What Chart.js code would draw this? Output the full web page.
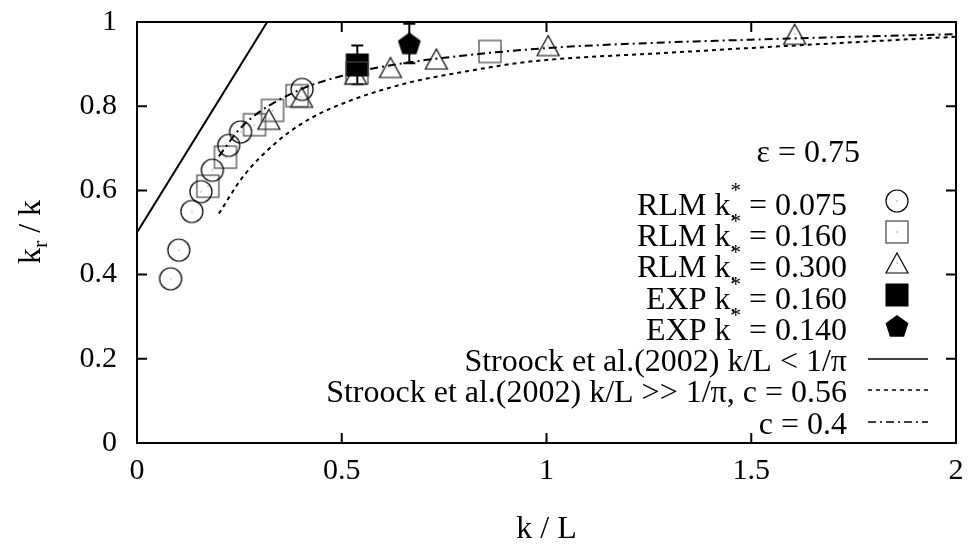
<!DOCTYPE html>
<html>
<head>
<meta charset="utf-8">
<script src="https://cdn.jsdelivr.net/npm/chart.js@4/dist/chart.umd.min.js"></script>
<style>
  body { margin: 0; background: #fff; }
  canvas { display: block; }
</style>
</head>
<body>
<canvas id="chart" width="969" height="545"></canvas>
<script>
// values
var circleX = [0.082, 0.102, 0.134, 0.156, 0.184, 0.224, 0.253, 0.403];
var circleY = [0.390, 0.458, 0.550, 0.597, 0.648, 0.707, 0.739, 0.840];

var squareX = [0.173, 0.216, 0.287, 0.331, 0.391, 0.537, 0.862];
var squareY = [0.610, 0.679, 0.756, 0.790, 0.825, 0.879, 0.930];

var triX = [0.322, 0.402, 0.534, 0.619, 0.731, 1.004, 1.606];
var triY = [0.769, 0.821, 0.876, 0.892, 0.912, 0.944, 0.971];

var exp160X = [0.538];
var exp160Y = [0.898];
var exp160Err = [0.046];

var exp140X = [0.665];
var exp140Y = [0.949];
var exp140Err = [0.047];

// Stroock et al. lines
var smallX = [0, 0.318];
var smallY = [0.5, 1.0];

var c056X = [0.20, 0.26, 0.34, 0.42, 0.52, 0.66, 0.80, 0.96, 1.30, 1.64, 2.00];
var c056Y = [0.545, 0.634, 0.714, 0.769, 0.813, 0.855, 0.882, 0.906, 0.927, 0.946, 0.965];

var c04X = [0.20, 0.25, 0.30, 0.40, 0.50, 0.60, 0.75, 1.00, 1.25, 1.50, 1.75, 2.00];
var c04Y = [0.681, 0.745, 0.787, 0.840, 0.872, 0.894, 0.915, 0.938, 0.950, 0.958, 0.965, 0.971];

var xTicks = [0, 0.5, 1, 1.5, 2];
var yTicks = [0, 0.2, 0.4, 0.6, 0.8, 1];

var seriesNames = [
  ["RLM k", "*", " = 0.075"],
  ["RLM k", "*", " = 0.160"],
  ["RLM k", "*", " = 0.300"],
  ["EXP k", "*", " = 0.160"],
  ["EXP k", "*", " = 0.140"],
  ["Stroock et al.(2002) k/L < 1/\u03c0", "", ""],
  ["Stroock et al.(2002) k/L >> 1/\u03c0, c = 0.56", "", ""],
  ["c = 0.4", "", ""]
];
var epsLabel = "\u03b5 = 0.75";

var serif = '"Liberation Serif", "Times New Roman", serif';

function pts(xs, ys) {
  return xs.map(function(x, i) { return {x: x, y: ys[i]}; });
}

// marker pictures, gnuplot style
function makeMarker(kind) {
  var c = document.createElement("canvas");
  c.width = 30; c.height = 30;
  var g = c.getContext("2d");
  g.lineWidth = 1.2;
  g.strokeStyle = "#000";
  g.fillStyle = "#000";
  var m = 15;
  if (kind == "circle") {
    g.beginPath(); g.arc(m, m, 11, 0, Math.PI * 2); g.stroke();
  } else if (kind == "square") {
    g.strokeStyle = "#444";
    g.strokeRect(m - 11, m - 11, 22, 22);
  } else if (kind == "triangle") {
    g.beginPath();
    g.moveTo(m, m - 10); g.lineTo(m + 11, m + 10); g.lineTo(m - 11, m + 10);
    g.closePath(); g.stroke();
  } else if (kind == "fsquare") {
    g.fillRect(m - 11.5, m - 11.5, 23, 23);
    return c;
  } else if (kind == "pentagon") {
    g.beginPath();
    for (var i = 0; i < 5; i++) {
      var a = -Math.PI / 2 + i * 2 * Math.PI / 5;
      var px = m + 12 * Math.cos(a), py = m + 1 + 12 * Math.sin(a);
      if (i == 0) g.moveTo(px, py); else g.lineTo(px, py);
    }
    g.closePath(); g.fill();
    return c;
  }
  g.fillStyle = "#555";
  g.fillRect(m - 0.5, m - 0.5, 1, 1);
  return c;
}

var markers = {
  circle: makeMarker("circle"),
  square: makeMarker("square"),
  triangle: makeMarker("triangle"),
  fsquare: makeMarker("fsquare"),
  pentagon: makeMarker("pentagon")
};

function markerSet(data, img) {
  return {
    data: data, showLine: false, pointStyle: img,
    pointRadius: 12, pointHoverRadius: 12, borderColor: "#000", backgroundColor: "#000"
  };
}
function lineSet(data, dash) {
  return {
    data: data, showLine: true, pointRadius: 0, borderColor: "#000",
    borderWidth: 2, borderDash: dash, cubicInterpolationMode: "monotone", fill: false
  };
}

var errorSets = [
  {xs: exp160X, ys: exp160Y, err: exp160Err},
  {xs: exp140X, ys: exp140Y, err: exp140Err}
];

var decorPlugin = {
  id: "decor",
  beforeDatasetsDraw: function(chart) {
    // error bars
    var ctx = chart.ctx, xs = chart.scales.x, ys = chart.scales.y;
    ctx.save();
    ctx.strokeStyle = "#000";
    ctx.lineWidth = 2;
    errorSets.forEach(function(s) {
      s.xs.forEach(function(x, i) {
        var px = xs.getPixelForValue(x);
        var top = ys.getPixelForValue(s.ys[i] + s.err[i]);
        var bot = ys.getPixelForValue(s.ys[i] - s.err[i]);
        ctx.beginPath();
        ctx.moveTo(px, top); ctx.lineTo(px, bot);
        ctx.moveTo(px - 6, top); ctx.lineTo(px + 6, top);
        ctx.moveTo(px - 6, bot); ctx.lineTo(px + 6, bot);
        ctx.stroke();
      });
    });
    ctx.restore();
  },
  afterDraw: function(chart) {
    var ctx = chart.ctx, a = chart.chartArea;
    var xs = chart.scales.x, ys = chart.scales.y;
    ctx.save();
    // frame and inward ticks
    ctx.strokeStyle = "#000";
    ctx.lineWidth = 2;
    ctx.strokeRect(a.left, a.top, a.right - a.left, a.bottom - a.top);
    ctx.beginPath();
    xTicks.slice(1, -1).forEach(function(v) {
      var p = xs.getPixelForValue(v);
      ctx.moveTo(p, a.bottom); ctx.lineTo(p, a.bottom - 10);
      ctx.moveTo(p, a.top); ctx.lineTo(p, a.top + 10);
    });
    yTicks.slice(1, -1).forEach(function(v) {
      var p = ys.getPixelForValue(v);
      ctx.moveTo(a.left, p); ctx.lineTo(a.left + 10, p);
      ctx.moveTo(a.right, p); ctx.lineTo(a.right - 10, p);
    });
    ctx.stroke();

    // axis titles
    ctx.fillStyle = "#000";
    ctx.font = "32px " + serif;
    ctx.textAlign = "center";
    ctx.textBaseline = "alphabetic";
    ctx.fillText("k / L", (a.left + a.right) / 2, 538);

    ctx.save();
    ctx.translate(40, 232);
    ctx.rotate(-Math.PI / 2);
    ctx.textAlign = "left";
    ctx.font = "32px " + serif;
    var w1 = ctx.measureText("k").width;
    var w3 = ctx.measureText(" / k").width;
    ctx.font = "22px " + serif;
    var w2 = ctx.measureText("r").width;
    var x0 = -(w1 + w2 + w3) / 2;
    ctx.font = "32px " + serif;
    ctx.fillText("k", x0, 0);
    ctx.font = "22px " + serif;
    ctx.fillText("r", x0 + w1, 7);
    ctx.font = "32px " + serif;
    ctx.fillText(" / k", x0 + w1 + w2, 0);
    ctx.restore();

    // key
    var rightEdge = 847;
    ctx.textAlign = "right";
    ctx.font = "32px " + serif;
    ctx.fillText(epsLabel, 860, 162);
    var rowY = [205, 236, 267, 299, 330, 361, 392, 424];
    var keyMarks = [markers.circle, markers.square, markers.triangle, markers.fsquare, markers.pentagon];
    var keyDash = [[], [4, 4], [8, 4, 2, 4]];
    seriesNames.forEach(function(parts, i) {
      var base = rowY[i] + 10;
      ctx.font = "32px " + serif;
      var wRest = ctx.measureText(parts[2]).width;
      ctx.textAlign = "right";
      if (parts[1]) {
        ctx.fillText(parts[2], rightEdge, base);
        ctx.font = "21px " + serif;
        var wSup = ctx.measureText(parts[1]).width;
        ctx.textAlign = "left";
        ctx.fillText(parts[1], rightEdge - wRest - wSup, base - 18);
        if (i < 4) ctx.fillText(",", rightEdge - wRest - wSup, base + 2);
        ctx.font = "32px " + serif;
        ctx.textAlign = "right";
        ctx.fillText(parts[0], rightEdge - wRest - wSup, base);
      } else {
        ctx.fillText(parts[0], rightEdge, base);
      }
      if (i < 5) {
        var img = keyMarks[i];
        ctx.drawImage(img, 897 - img.width / 2, rowY[i] - 4 - img.height / 2);
      } else {
        ctx.lineWidth = 1.3;
        ctx.setLineDash(keyDash[i - 5]);
        ctx.beginPath();
        ctx.moveTo(868, rowY[i] - 2); ctx.lineTo(928, rowY[i] - 2);
        ctx.stroke();
        ctx.setLineDash([]);
      }
    });
    ctx.restore();
  }
};

var tickFont = {family: serif, size: 30};

function noPad(s) {
  s.paddingTop = 0; s.paddingBottom = 0; s.paddingLeft = 0; s.paddingRight = 0;
}

new Chart(document.getElementById("chart"), {
  type: "scatter",
  data: {
    datasets: [
      lineSet(pts(smallX, smallY), []),
      lineSet(pts(c056X, c056Y), [4, 4]),
      lineSet(pts(c04X, c04Y), [8, 4, 2, 4]),
      markerSet(pts(circleX, circleY), markers.circle),
      markerSet(pts(squareX, squareY), markers.square),
      markerSet(pts(triX, triY), markers.triangle),
      markerSet(pts(exp160X, exp160Y), markers.fsquare),
      markerSet(pts(exp140X, exp140Y), markers.pentagon)
    ]
  },
  options: {
    responsive: false,
    animation: false,
    layout: {padding: {left: 0, right: 9, top: 22, bottom: 0}},
    plugins: {legend: {display: false}, tooltip: {enabled: false}},
    scales: {
      x: {
        type: "linear", min: 0, max: 2,
        afterBuildTicks: function(s) { s.ticks = xTicks.map(function(v) { return {value: v}; }); },
        ticks: {font: tickFont, color: "#000", padding: 10, maxRotation: 0, autoSkip: false,
                callback: function(v) { return String(v); }},
        grid: {display: false, drawTicks: false},
        border: {display: false},
        afterFit: function(s) { s.height = 102; noPad(s); }
      },
      y: {
        type: "linear", min: 0, max: 1,
        afterBuildTicks: function(s) { s.ticks = yTicks.map(function(v) { return {value: v}; }); },
        ticks: {font: tickFont, color: "#000", padding: 20, autoSkip: false,
                callback: function(v) { return String(v); }},
        grid: {display: false, drawTicks: false},
        border: {display: false},
        afterFit: function(s) { s.width = 137; noPad(s); }
      }
    }
  },
  plugins: [decorPlugin]
});
</script>
</body>
</html>
